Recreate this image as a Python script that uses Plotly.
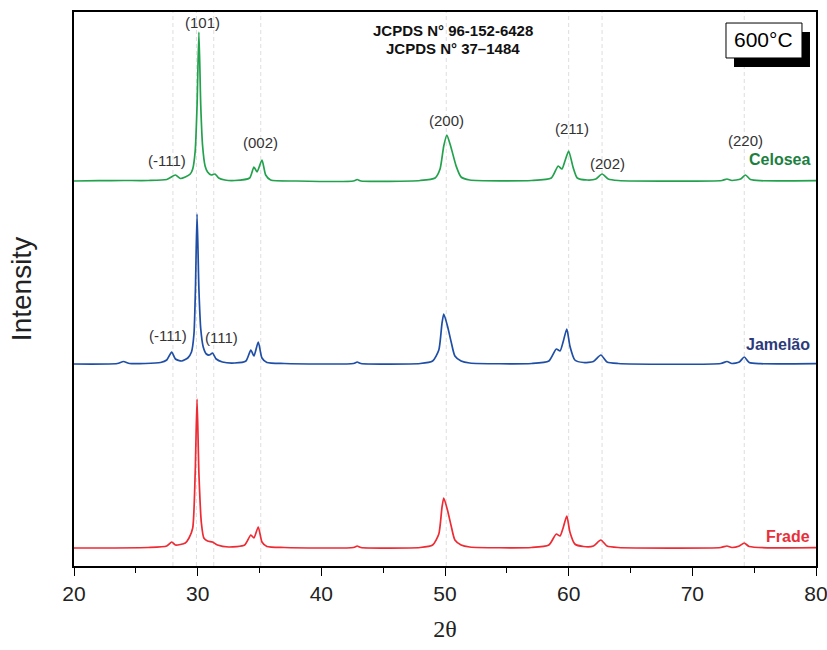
import plotly.graph_objects as go

# ---------------- data ----------------
# intensities are a.u. above each pattern's own baseline
celosea_x = [20, 22, 24, 26, 27.5, 28.2, 28.6, 29.0, 29.4, 29.6, 29.8, 29.95, 30.1, 30.25, 30.4, 30.6, 30.8,
             31.1, 31.4, 31.7, 32.2, 33.0, 34.2, 34.55, 34.8, 35.2, 35.5, 35.9, 38, 42.6, 42.9, 43.2, 48,
             49.2, 49.6, 49.9, 50.15, 50.5, 50.9, 51.3, 52, 57, 58.6, 59.15, 59.45, 59.7, 60.0, 60.35,
             60.7, 61.5, 62.2, 62.7, 63.2, 64, 72.4, 72.8, 73.2, 73.9, 74.3, 74.7, 75.5, 80]
celosea_y = [0, 0.3, 0.5, 0.5, 1.5, 6, 2.5, 4, 7, 12, 30, 75, 149, 75, 35, 15, 9,
             6, 7, 3, 1, 0.5, 3, 14, 9, 21, 6, 1, 0, 0, 1.5, 0, 0.5,
             3, 12, 35, 46, 33, 15, 4, 1, 0.5, 3, 15, 12, 20, 30, 14,
             3, 1, 2, 7, 2, 0.5, 0.5, 2, 0.5, 2, 6, 1.5, 0.3, 0.3]

jamelao_x = [20, 23.5, 24.0, 24.5, 27.0, 27.5, 27.9, 28.2, 28.7, 29.2, 29.5, 29.7, 29.82, 29.95, 30.1,
             30.25, 30.45, 30.7, 30.95, 31.2, 31.5, 32, 33, 33.9, 34.3, 34.55, 34.9, 35.2, 35.6, 37,
             42.6, 42.9, 43.2, 48, 49, 49.5, 49.75, 49.9, 50.2, 50.5, 50.8, 51.3, 52, 57, 58.4, 59.0,
             59.3, 59.55, 59.85, 60.1, 60.5, 61.2, 62, 62.6, 63.1, 64, 72.3, 72.8, 73.2, 73.8, 74.2,
             74.6, 75.5, 80]
jamelao_y = [0, 0.5, 2.5, 0.5, 1.5, 4, 12, 5, 3, 6, 12, 30, 75, 150, 75,
             35, 17, 10, 9, 11, 5, 2, 1, 3, 14, 8, 22, 6, 1.5, 0.5,
             0.5, 2, 0.5, 0.5, 3, 14, 40, 50, 38, 22, 8, 3, 1, 0.5, 3, 15,
             13, 22, 35, 18, 4, 1.5, 2.5, 9, 2, 0.5, 0.5, 2.5, 0.5, 2, 7,
             1.5, 0.3, 0.3]

frade_x = [20, 26, 27.5, 27.9, 28.2, 29.0, 29.3, 29.6, 29.8, 29.95, 30.1, 30.3, 30.5, 30.8, 31.2, 31.6,
           32.5, 33.8, 34.3, 34.55, 34.9, 35.2, 35.6, 37, 42.6, 42.9, 43.2, 48, 49, 49.5, 49.75, 49.9,
           50.2, 50.5, 50.8, 51.3, 52, 57, 58.4, 59.0, 59.3, 59.55, 59.85, 60.1, 60.5, 61.2, 62, 62.6,
           63.1, 64, 72.3, 72.8, 73.2, 73.8, 74.2, 74.6, 80]
frade_y = [0, 0.5, 2, 6, 3, 5, 10, 20, 75, 149, 75, 25, 10, 7, 6, 3,
           1, 3, 13, 10, 21, 6, 1.5, 0.5, 0.5, 2, 0.5, 0.5, 3, 14, 40, 50,
           38, 22, 8, 3, 1, 0.5, 3, 14, 12, 20, 32, 16, 4, 1.5, 2, 8,
           2, 0.5, 0.5, 2, 0.5, 2, 5, 1.5, 0.3]

series_names = ["Celosea", "Jamelão", "Frade"]
series_offsets = [385, 202, 18]
reference_lines = [28.0, 29.9, 31.3, 35.1, 50.1, 60.0, 62.7, 74.2]

hkl_labels = ["(-111)", "(101)", "(002)", "(200)", "(211)", "(202)", "(220)", "(-111)", "(111)"]
hkl_x = [27.5, 30.43, 35.12, 50.16, 60.27, 63.1, 74.26, 27.6, 31.89]
hkl_y = [406, 544, 424, 446, 438, 403, 426, 231, 229]

x_tick_values = [20, 30, 40, 50, 60, 70, 80]

# ---------------- styles ----------------
line_colors = ["#23a24d", "#1f4ea6", "#ee2a33"]
text_colors = ["#1d7f3f", "#2c3a7c", "#e8303a"]
label_y = [407, 222, 30]

fig = go.Figure()

# reference dashed lines
for xv in reference_lines:
    fig.add_shape(type="line", xref="x", yref="paper", x0=xv, x1=xv, y0=0, y1=1,
                  line=dict(color="#dadada", width=0.9, dash="4px,3px"), layer="below")

all_x = [celosea_x, jamelao_x, frade_x]
all_y = [celosea_y, jamelao_y, frade_y]
for name, xs, ys, off, col in zip(series_names, all_x, all_y, series_offsets, line_colors):
    fig.add_trace(go.Scatter(x=xs, y=[v + off for v in ys], mode="lines", name=name,
                             line=dict(color=col, width=1.7, shape="spline", smoothing=0.6),
                             showlegend=False, hoverinfo="skip"))

annots = []
for t, xv, yv in zip(hkl_labels, hkl_x, hkl_y):
    annots.append(dict(x=xv, y=yv, xref="x", yref="y", text=t, showarrow=False,
                       xanchor="center", yanchor="middle",
                       font=dict(family="Liberation Sans, Arial", size=15, color="#333333")))

for name, col, yv in zip(series_names, text_colors, label_y):
    annots.append(dict(x=79.67, y=yv, xref="x", yref="y", text="<b>%s</b>" % name, showarrow=False,
                       xanchor="right", yanchor="middle",
                       font=dict(family="Liberation Sans, Arial", size=16, color=col)))

annots.append(dict(x=50.65, y=536, xref="x", yref="y", text="<b>JCPDS N° 96-152-6428</b>",
                   showarrow=False, xanchor="center", yanchor="middle",
                   font=dict(family="Liberation Sans, Arial", size=15, color="#111111")))
annots.append(dict(x=50.65, y=518, xref="x", yref="y", text="<b>JCPDS N° 37–1484</b>",
                   showarrow=False, xanchor="center", yanchor="middle",
                   font=dict(family="Liberation Sans, Arial", size=15, color="#111111")))

# 600°C box with shadow
fig.add_shape(type="rect", xref="paper", yref="paper", x0=0.8895, x1=0.9919, y0=0.9007, y1=0.9639,
              fillcolor="black", line=dict(width=0))
fig.add_shape(type="rect", xref="paper", yref="paper", x0=0.8787, x1=0.9811, y0=0.9170, y1=0.9801,
              fillcolor="white", line=dict(color="black", width=1))
annots.append(dict(x=0.9299, y=0.9495, xref="paper", yref="paper", text="600°C", showarrow=False,
                   xanchor="center", yanchor="middle",
                   font=dict(family="Liberation Sans, Arial", size=21, color="black")))

fig.update_layout(
    width=840, height=650,
    margin=dict(l=74, r=24, t=12, b=84, autoexpand=False),
    paper_bgcolor="white", plot_bgcolor="white",
    annotations=annots,
    xaxis=dict(range=[20, 80], tickvals=x_tick_values, automargin=False,
               ticks="outside", ticklen=8, tickwidth=1.2, tickcolor="black",
               minor=dict(ticks="outside", ticklen=5, tickwidth=1.2, tickcolor="black", dtick=5, tick0=20),
               showline=True, linecolor="black", linewidth=1.6, mirror=True, showgrid=False, zeroline=False,
               tickfont=dict(family="Liberation Sans, Arial", size=21, color="#222222"),
               title=dict(text="2θ", font=dict(family="Liberation Serif, Times New Roman", size=24, color="#222222"),
                          standoff=16)),
    yaxis=dict(range=[0, 554], showticklabels=False, ticks="", showgrid=False, zeroline=False, automargin=False,
               showline=True, linecolor="black", linewidth=1.6, mirror=True,
               title=dict(text="Intensity", font=dict(family="Liberation Sans, Arial", size=28, color="#222222"),
                          standoff=32)),
)

fig.write_html("out.html", config={"displayModeBar": False},
               post_script="document.body.style.margin='0';document.body.style.overflow='hidden';")
